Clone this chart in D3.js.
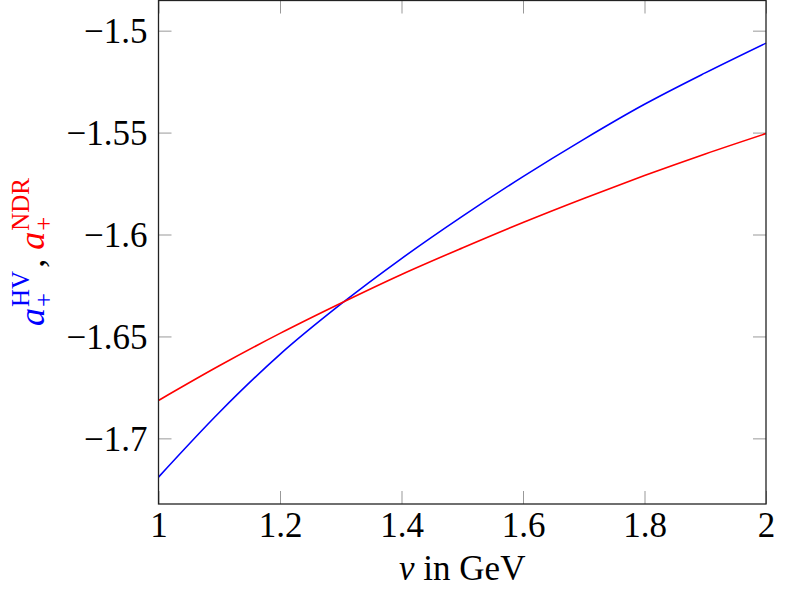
<!DOCTYPE html>
<html>
<head>
<meta charset="utf-8">
<script src="https://cdn.jsdelivr.net/npm/d3@7"></script>
<style>
  body { margin: 0; background: #fff; }
  svg text { font-family: "Liberation Serif", "DejaVu Serif", serif; }
</style>
</head>
<body>
<script>
// values
const nu = [1, 1.1, 1.2, 1.3, 1.4, 1.5, 1.6, 1.7, 1.8, 1.9, 2];
const aHV = [-1.7190, -1.6873, -1.6588, -1.6342, -1.6118, -1.5911, -1.5716, -1.5533, -1.5361, -1.5207, -1.5061];
const aNDR = [-1.6814, -1.6644, -1.6485, -1.6337, -1.6196, -1.6066, -1.5941, -1.5823, -1.5711, -1.5605, -1.5505];
const xTicks = [1, 1.2, 1.4, 1.6, 1.8, 2];
const yTicks = [-1.7, -1.65, -1.6, -1.55, -1.5];

const W = 785, H = 590;
const plotL = 158.5, plotR = 766, plotT = 0.5, plotB = 504;

const svg = d3.select("body").append("svg")
  .attr("width", W).attr("height", H);

const x = d3.scaleLinear().domain([1, 2]).range([plotL, plotR]);
const y = d3.scaleLinear().domain([-1.7322, -1.4852]).range([plotB, plotT]);

const fmt = d3.format("");
const tickLen = 13;
const fs = 35;

// ticks (inside, gray) on all four sides
function styleTicks(g) {
  g.select(".domain").remove();
  g.selectAll(".tick line").attr("stroke", "#999").attr("stroke-width", 1);
}

svg.append("g")
  .attr("transform", `translate(0,${plotB})`)
  .call(d3.axisBottom(x).tickValues(xTicks).tickSize(-tickLen).tickFormat(fmt))
  .call(styleTicks)
  .call(g => g.selectAll(".tick text")
    .attr("y", 33).attr("dy", 0)
    .attr("font-size", fs).attr("fill", "#000")
    .style("font-family", "Liberation Serif"));

svg.append("g")
  .attr("transform", `translate(0,${plotT})`)
  .call(d3.axisTop(x).tickValues(xTicks).tickSize(-tickLen).tickFormat(""))
  .call(styleTicks);

svg.append("g")
  .attr("transform", `translate(${plotL},0)`)
  .call(d3.axisLeft(y).tickValues(yTicks).tickSize(-tickLen).tickFormat(fmt))
  .call(styleTicks)
  .call(g => g.selectAll(".tick text")
    .attr("x", -11).attr("dy", "0.34em")
    .attr("font-size", fs).attr("fill", "#000")
    .style("font-family", "Liberation Serif"));

svg.append("g")
  .attr("transform", `translate(${plotR},0)`)
  .call(d3.axisRight(y).tickValues(yTicks).tickSize(-tickLen).tickFormat(""))
  .call(styleTicks);

// curves
const line = d3.line().curve(d3.curveMonotoneX);
const series = [
  { vals: aHV, color: "#0000ff" },
  { vals: aNDR, color: "#ff0000" }
];
svg.append("g").selectAll("path")
  .data(series)
  .enter().append("path")
  .attr("fill", "none")
  .attr("stroke", d => d.color)
  .attr("stroke-width", 1.6)
  .attr("d", d => line(nu.map((v, i) => [x(v), y(d.vals[i])])));

// frame
svg.append("rect")
  .attr("x", plotL).attr("y", plotT)
  .attr("width", plotR - plotL).attr("height", plotB - plotT)
  .attr("fill", "none").attr("stroke", "#222").attr("stroke-width", 1.3);

// x label
svg.append("text")
  .attr("x", (plotL + plotR) / 2).attr("y", 580)
  .attr("text-anchor", "middle")
  .attr("font-size", fs)
  .html('<tspan font-style="italic">ν</tspan> in GeV');

// y label: a_+^HV , a_+^NDR  (rotated, built piece by piece)
const yl = svg.append("g").attr("transform", "translate(44,252) rotate(-90)");
const main = 36, small = 25;
let cx = 0;
function piece(txt, size, color, dy, italic) {
  const t = yl.append("text").attr("x", cx).attr("y", dy)
    .attr("font-size", size).attr("fill", color)
    .attr("font-style", italic ? "italic" : "normal")
    .text(txt);
  return t.node().getComputedTextLength();
}
function term(sup, color) {
  cx += piece("a", main, color, 0, true) + 1;
  const w1 = piece("+", small, color, 8, false);
  const w2 = piece(sup, small, color, -15, false);
  cx += Math.max(w1, w2);
}
term("HV", "#0000ff");
cx += 3;
cx += piece(",", main, "#000", 0, false) + 9;
term("NDR", "#ff0000");
yl.selectAll("text").attr("transform", `translate(${-cx / 2},0)`);
</script>
</body>
</html>
